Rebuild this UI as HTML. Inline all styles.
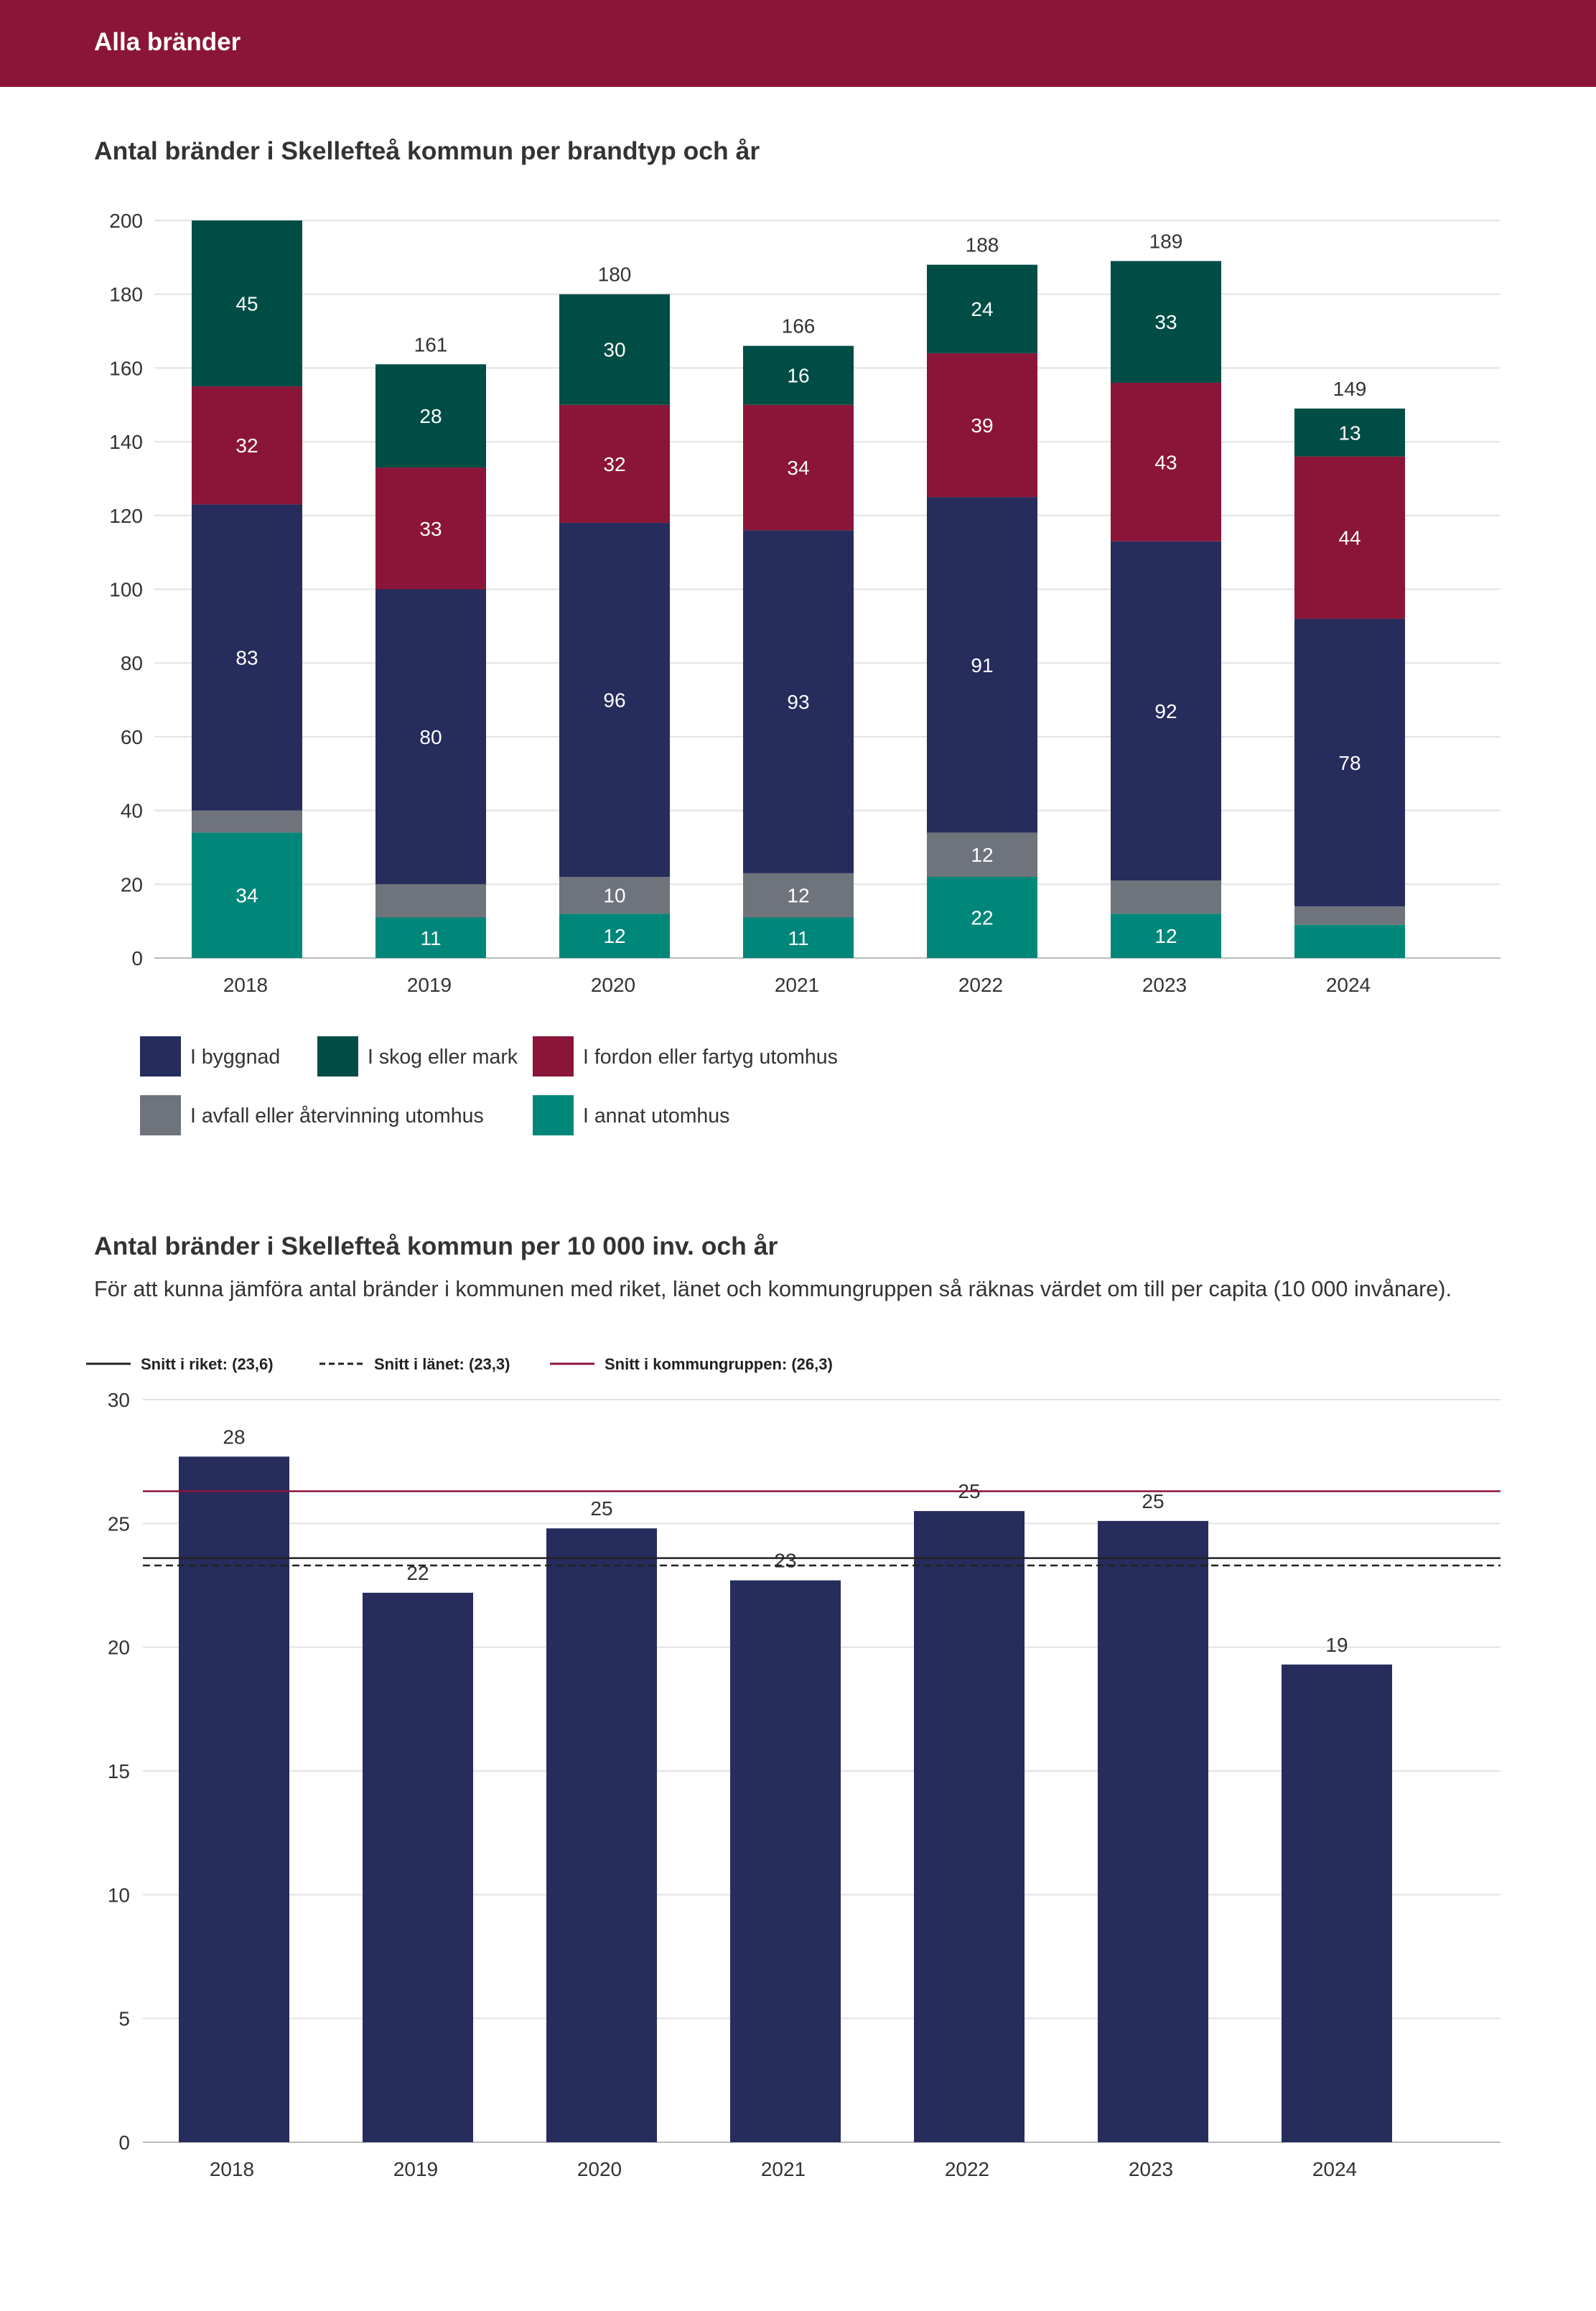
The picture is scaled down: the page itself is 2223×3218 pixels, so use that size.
<!DOCTYPE html>
<html><head><meta charset="utf-8">
<style>
html,body{margin:0;padding:0;background:#fff;}
body{width:2223px;height:3213px;overflow:hidden;font-family:"Liberation Sans",sans-serif;}
svg text{font-family:"Liberation Sans",sans-serif;}
</style></head>
<body>
<svg id="s" width="2223" height="3213" viewBox="0 0 2223 3213" xmlns="http://www.w3.org/2000/svg">
<rect x="0" y="0" width="2223" height="121" fill="#8B1538"/>
<text x="131" y="70" font-size="35" font-weight="bold" fill="#fff">Alla bränder</text>
<text x="131" y="222" font-size="35.5" font-weight="bold" fill="#333">Antal bränder i Skellefteå kommun per brandtyp och år</text>
<g id="c1"></g>
<g id="l1"></g>
<text x="131" y="1747" font-size="35.5" font-weight="bold" fill="#333">Antal bränder i Skellefteå kommun per 10 000 inv. och år</text>
<text x="131" y="1805" font-size="30.6" fill="#333">För att kunna jämföra antal bränder i kommunen med riket, länet och kommungruppen så räknas värdet om till per capita (10 000 invånare).</text>
<g id="c2"></g>
</svg>
<script>
const NS="http://www.w3.org/2000/svg";
function mk(p,t,a,txt){const e=document.createElementNS(NS,t);for(const k in a)e.setAttribute(k,a[k]);if(txt!==undefined)e.textContent=txt;p.appendChild(e);return e;}
const years=["2018","2019","2020","2021","2022","2023","2024"];
const seriesNames=["I annat utomhus","I avfall eller återvinning utomhus","I byggnad","I fordon eller fartyg utomhus","I skog eller mark"];
const annat=[34,11,12,11,22,12,9];
const avfall=[6,9,10,12,12,9,5];
const byggnad=[83,80,96,93,91,92,78];
const fordon=[32,33,32,34,39,43,44];
const skog=[45,28,30,16,24,33,13];
const yTicks1=[0,20,40,60,80,100,120,140,160,180,200];
const colors=["#00877A","#6F737B","#262C5C","#8B1538","#004D45"];
const perCap=[27.7,22.2,24.8,22.7,25.5,25.1,19.3];
const perCapLabels=["28","22","25","23","25","25","19"];
const yTicks2=[0,5,10,15,20,25,30];
const refRiket=23.6, refLan=23.3, refGrupp=26.3;

(function(){
const g=document.getElementById('c1');
const x0=215,x1=2090,y0=1334,yTop=307;
const ys=v=>y0-(v/200)*(y0-yTop);
const xc=i=>344+i*256;const bw=154;
yTicks1.forEach(t=>{
 const l=mk(g,'line',{x1:x0,x2:x1,y1:ys(t),y2:ys(t),stroke:t===0?'#bbb':'#e2e2e2','stroke-width':2});
 
 const tx=mk(g,'text',{x:199,y:ys(t)+10,'font-size':28,'text-anchor':'end',fill:'#333'},t);
 
});
const data=[annat,avfall,byggnad,fordon,skog];
years.forEach((y,i)=>{
 let acc=0;
 data.forEach((s,k)=>{
  const v=s[i];const top=ys(acc+v),bot=ys(acc);
  const r=mk(g,'rect',{x:xc(i)-bw/2,y:top,width:bw,height:bot-top,fill:colors[k]});
  
  if(v>=10){const t=mk(g,'text',{x:xc(i),y:(top+bot)/2+10,'font-size':28,'text-anchor':'middle',fill:'#fff'},v);
   }
  acc+=v;
 });
 if(acc<200){const t=mk(g,'text',{x:xc(i),y:ys(acc)-18,'font-size':28,'text-anchor':'middle',fill:'#333'},acc);
  }
 const xl=mk(g,'text',{x:xc(i)-2,y:1381,'font-size':28,'text-anchor':'middle',fill:'#333'},y);
 
});
const lg=document.getElementById('l1');
const items=[[2,195,1471],[4,442,1471],[3,742,1471],[1,195,1553],[0,742,1553]];
items.forEach(([k,x,y])=>{
 const r=mk(lg,'rect',{x:x,y:y-28,width:57,height:56,fill:colors[k]});
 
 const t=mk(lg,'text',{x:x+70,y:y+10,'font-size':28.5,fill:'#333'},seriesNames[k]);
 
});
})();

(function(){
const g=document.getElementById('c2');
const x0=199,x1=2090,y0=2983,yTop=1949;
const ys=v=>y0-(v/30)*(y0-yTop);
const xc=i=>326+i*256;const bw=154;
const leg=[[120,'#222',null,'Snitt i riket: (23,6)'],[445,'#222','8,5','Snitt i länet: (23,3)'],[766,'#8B1538',null,'Snitt i kommungruppen: (26,3)']];
leg.forEach(([x,c,d,txt])=>{
 const a={x1:x,x2:x+62,y1:1899,y2:1899,stroke:c,'stroke-width':3};if(d)a['stroke-dasharray']=d;
 const l=mk(g,'line',a);
 const t=mk(g,'text',{x:x+76,y:1907,'font-size':22,'font-weight':'bold',fill:'#222'},txt);
 
});
yTicks2.forEach(t=>{
 const l=mk(g,'line',{x1:x0,x2:x1,y1:ys(t),y2:ys(t),stroke:t===0?'#bbb':'#e2e2e2','stroke-width':2});
 
 const tx=mk(g,'text',{x:181,y:ys(t)+10,'font-size':28,'text-anchor':'end',fill:'#333'},t);
 
});
perCap.forEach((v,i)=>{
 const r=mk(g,'rect',{x:xc(i)-bw/2,y:ys(v),width:bw,height:y0-ys(v),fill:'#262C5C'});
 
 const t=mk(g,'text',{x:xc(i),y:ys(v)-18,'font-size':28,'text-anchor':'middle',fill:'#333'},perCapLabels[i]);
 
 const xl=mk(g,'text',{x:xc(i)-3,y:3030,'font-size':28,'text-anchor':'middle',fill:'#333'},years[i]);
 
});
const refs=[[refGrupp,'#8B1538',null,'kommungrupp'],[refRiket,'#222',null,'riket'],[refLan,'#222','10,6','lanet']];
refs.forEach(([v,c,d,n])=>{
 const a={x1:x0,x2:x1,y1:ys(v),y2:ys(v),stroke:c,'stroke-width':2.5};if(d)a['stroke-dasharray']=d;
 const l=mk(g,'line',a);
});
})();
</script>
</body></html>
